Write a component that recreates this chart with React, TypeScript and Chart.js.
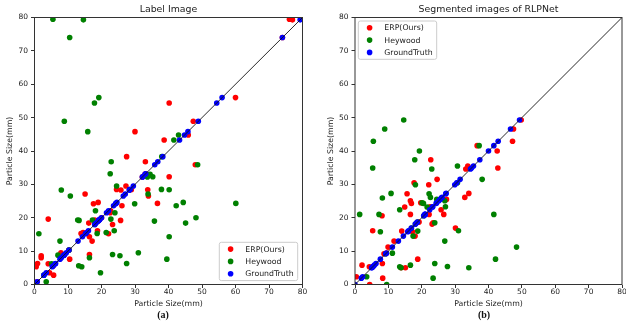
import React, { useEffect, useRef } from "react";
import { Chart, registerables } from "chart.js";

Chart.register(...registerables);

// ---------- data ----------
const tickValues = [0, 10, 20, 30, 40, 50, 60, 70, 80];
const seriesNames = ["ERP(Ours)", "Heywood", "GroundTruth"];
const seriesColors = ["#ff0000", "#008000", "#0000ff"];

// Label Image (a)
const leftTruth = [79.5, 79.3, 74.0, 56.0, 54.4, 48.9, 45.8, 44.8, 43.3, 38.3, 36.8, 35.9, 33.2, 33.0, 32.3, 32.2, 29.5, 28.5, 28.4, 28.3, 28.4, 27.1, 26.5, 24.6, 24.3, 24.2, 23.6, 22.1, 21.5, 20.0, 19.6, 19.3, 19.2, 19.3, 19.0, 18.4, 18.0, 16.1, 15.6, 15.3, 15.2, 14.3, 13.0, 10.3, 9.5, 9.0, 8.8, 8.6, 8.0, 7.6, 6.3, 6.2, 5.6, 5.3, 3.5, 2.8, 0.8];
const leftErp = [76.1, 77.0, 74.0, 60.0, 40.2, 47.4, 30.0, 45.9, 38.7, 27.5, 33.1, 48.0, 33.2, 33.0, 40.2, 32.2, 27.3, 24.5, 28.9, 25.8, 33.8, 15.1, 34.0, 19.0, 36.7, 17.6, 26.1, 22.7, 22.6, 20.0, 4.1, 18.0, 25.7, 19.3, 19.0, 16.2, 23.3, 18.8, 14.5, 13.9, 22.1, 16.4, 17.2, 10.3, 7.9, 16.4, 8.8, 2.0, 2.0, 10.5, 0.9, 4.1, 5.6, 0.5, 4.5, 5.7, 0.8];
const leftHeywood = [5.5, 14.6, 10.5, 19.2, 17.9, 8.9, 15.9, 43.0, 41.6, 38.0, 22.9, 48.7, 22.6, 34.5, 35.3, 33.7, 24.5, 37.9, 40.2, 8.0, 28.4, 33.9, 10.7, 44.4, 60.1, 29.9, 42.3, 18.2, 24.0, 48.2, 22.8, 17.3, 13.3, 12.9, 35.8, 45.1, 18.0, 23.8, 21.4, 18.7, 1.3, 40.2, 7.6, 10.3, 31.0, 23.3, 7.0, 25.5, 16.4, 39.5, 27.5, 5.1, 13.2, 14.1, 19.7, 2.8, 3.5];

// Segmented images of RLPNet (b)
const rightTruth = [49.3, 46.6, 42.9, 41.6, 40.0, 37.4, 35.5, 34.9, 34.6, 31.5, 30.5, 29.9, 27.3, 27.2, 26.1, 25.9, 25.5, 25.1, 24.5, 24.3, 23.3, 23.2, 22.4, 21.0, 21.0, 21.0, 20.6, 18.7, 18.5, 18.1, 16.9, 16.1, 16.0, 15.8, 14.5, 13.0, 11.2, 9.4, 9.2, 7.6, 6.3, 5.8, 5.4, 5.3, 5.0, 5.0, 2.3, 1.9, 0.0];
const rightErp = [49.8, 47.5, 47.2, 36.6, 42.6, 22.7, 33.8, 42.8, 33.2, 24.6, 17.7, 22.1, 34.1, 15.6, 32.9, 25.9, 27.4, 16.6, 19.7, 16.9, 22.5, 14.9, 25.8, 26.6, 22.2, 16.6, 8.1, 19.2, 23.4, 23.1, 30.1, 5.3, 14.0, 17.2, 18.0, 11.7, 9.9, 9.4, 8.7, 18.8, 8.2, 2.1, 5.4, 4.3, 13.8, 15.1, 0.4, 8.3, 4.4];
const rightHeywood = [14.6, 8.9, 5.5, 37.2, 19.3, 17.9, 30.7, 5.3, 23.0, 38.1, 30.7, 18.1, 10.8, 22.2, 22.6, 8.2, 24.5, 26.9, 20.1, 20.5, 27.1, 21.6, 13.4, 1.4, 7.2, 41.6, 20.6, 18.7, 23.9, 18.1, 16.9, 31.0, 18.8, 7.6, 17.4, 26.9, 48.4, 11.2, 9.2, 42.1, 23.9, 16.6, 27.7, 13.4, 34.1, 13.8, 3.5, 23.4, 9.5];

// ---------- styling ----------
const FONT = '"DejaVu Sans", sans-serif';
const TEXT = "#222222";
const AXIS = "#333333";
const R = 2.8;

function decorPlugin(title: string, lx: number, ly: number) {
  return {
    id: "decor",
    afterDraw(chart: any) {
      const { ctx, chartArea: a } = chart;
      ctx.save();
      ctx.strokeStyle = AXIS;
      ctx.lineWidth = 1;
      ctx.strokeRect(a.left, a.top, a.right - a.left, a.bottom - a.top);

      ctx.fillStyle = TEXT;
      ctx.font = `9.4px ${FONT}`;
      ctx.textAlign = "center";
      ctx.textBaseline = "alphabetic";
      ctx.fillText(title, (a.left + a.right) / 2, 12.3);

      // legend
      const w = 78.4, h = 38.3;
      ctx.beginPath();
      if ((ctx as any).roundRect) (ctx as any).roundRect(lx, ly, w, h, 2);
      else ctx.rect(lx, ly, w, h);
      ctx.fillStyle = "rgba(255,255,255,0.8)";
      ctx.fill();
      ctx.strokeStyle = "#cccccc";
      ctx.lineWidth = 1;
      ctx.stroke();
      ctx.font = `7.8px ${FONT}`;
      ctx.textAlign = "left";
      ctx.textBaseline = "middle";
      seriesNames.forEach((name, i) => {
        const cy = ly + 6.8 + i * 12.3;
        ctx.beginPath();
        ctx.arc(lx + 11.3, cy, R, 0, Math.PI * 2);
        ctx.fillStyle = seriesColors[i];
        ctx.fill();
        ctx.fillStyle = TEXT;
        ctx.fillText(name, lx + 26, cy + 0.5);
      });
      ctx.restore();
    },
  };
}

function axisCommon(isX: boolean) {
  return {
    type: "linear" as const,
    min: 0,
    max: 80,
    afterBuildTicks: (s: any) => {
      s.ticks = tickValues.map((v) => ({ value: v }));
    },
    ticks: {
      font: { family: FONT, size: 7.5 },
      color: TEXT,
      padding: isX ? 0 : 3,
      maxRotation: 0,
      autoSkip: false,
    },
    grid: {
      display: true,
      drawOnChartArea: false,
      drawTicks: true,
      tickLength: 3.5,
      tickColor: AXIS,
      tickWidth: 1,
    },
    border: { display: false },
    title: {
      display: true,
      text: "Particle Size(mm)",
      font: { family: FONT, size: 7.8 },
      color: TEXT,
      padding: isX ? { top: 0, bottom: 4 } : { top: 5.3, bottom: 0 },
    },
    afterFit: (s: any) => {
      if (isX) {
        s.height = 28.5;
        s.paddingLeft = 0;
        s.paddingRight = 0;
      } else {
        s.width = 34.5;
        s.paddingTop = 0;
        s.paddingBottom = 0;
      }
    },
  };
}

function buildConfig(
  truth: number[],
  erp: number[],
  hey: number[],
  title: string,
  lx: number,
  ly: number,
  padLeft: number,
  padRight: number
): any {
  const pts = (xs: number[]) => xs.map((v, i) => ({ x: v, y: truth[i] }));
  return {
    type: "scatter",
    data: {
      datasets: [
        {
          label: "diag",
          data: [{ x: 0, y: 0 }, { x: 80, y: 80 }],
          showLine: true,
          borderColor: "#111111",
          borderWidth: 0.9,
          pointRadius: 0,
          order: 0,
          clip: 0,
        },
        {
          label: seriesNames[0],
          data: pts(erp),
          backgroundColor: seriesColors[0],
          borderWidth: 0,
          pointRadius: R,
          order: 3,
          clip: 0,
        },
        {
          label: seriesNames[1],
          data: pts(hey),
          backgroundColor: seriesColors[1],
          borderWidth: 0,
          pointRadius: R,
          order: 2,
          clip: 0,
        },
        {
          label: seriesNames[2],
          data: pts(truth),
          backgroundColor: seriesColors[2],
          borderWidth: 0,
          pointRadius: R,
          order: 1,
          clip: 0,
        },
      ],
    },
    options: {
      responsive: false,
      animation: false,
      events: [],
      layout: { padding: { top: 17.5, left: padLeft, right: padRight, bottom: 0 } },
      plugins: {
        legend: { display: false },
        title: { display: false },
        tooltip: { enabled: false },
      },
      scales: {
        x: axisCommon(true),
        y: axisCommon(false),
      },
    },
    plugins: [decorPlugin(title, lx, ly)],
  };
}

export default function App() {
  const leftRef = useRef<HTMLCanvasElement>(null);
  const rightRef = useRef<HTMLCanvasElement>(null);

  useEffect(() => {
    const c1 = new Chart(
      leftRef.current as HTMLCanvasElement,
      buildConfig(leftTruth, leftErp, leftHeywood, "Label Image", 219.3, 242.3, 0, 10.5)
    );
    const c2 = new Chart(
      rightRef.current as HTMLCanvasElement,
      buildConfig(rightTruth, rightErp, rightHeywood, "Segmented images of RLPNet", 45.3, 21, 7.5, 3.5)
    );
    return () => {
      c1.destroy();
      c2.destroy();
    };
  }, []);

  const caption: React.CSSProperties = {
    position: "absolute",
    top: 315,
    transform: "translate(-50%, -50%)",
    fontFamily: '"Liberation Serif", "DejaVu Serif", serif',
    fontWeight: "bold",
    fontSize: 10,
    lineHeight: 1,
    whiteSpace: "nowrap",
    color: "#111",
  };

  return (
    <div style={{ position: "absolute", left: 0, top: 0, width: 626, height: 327, background: "#fff", overflow: "hidden" }}>
      <canvas ref={leftRef} width={313} height={313} style={{ position: "absolute", left: 0, top: 0, display: "block" }} />
      <canvas ref={rightRef} width={313} height={313} style={{ position: "absolute", left: 313, top: 0, display: "block" }} />
      <div style={{ ...caption, left: 163 }}>(a)</div>
      <div style={{ ...caption, left: 484 }}>(b)</div>
    </div>
  );
}
